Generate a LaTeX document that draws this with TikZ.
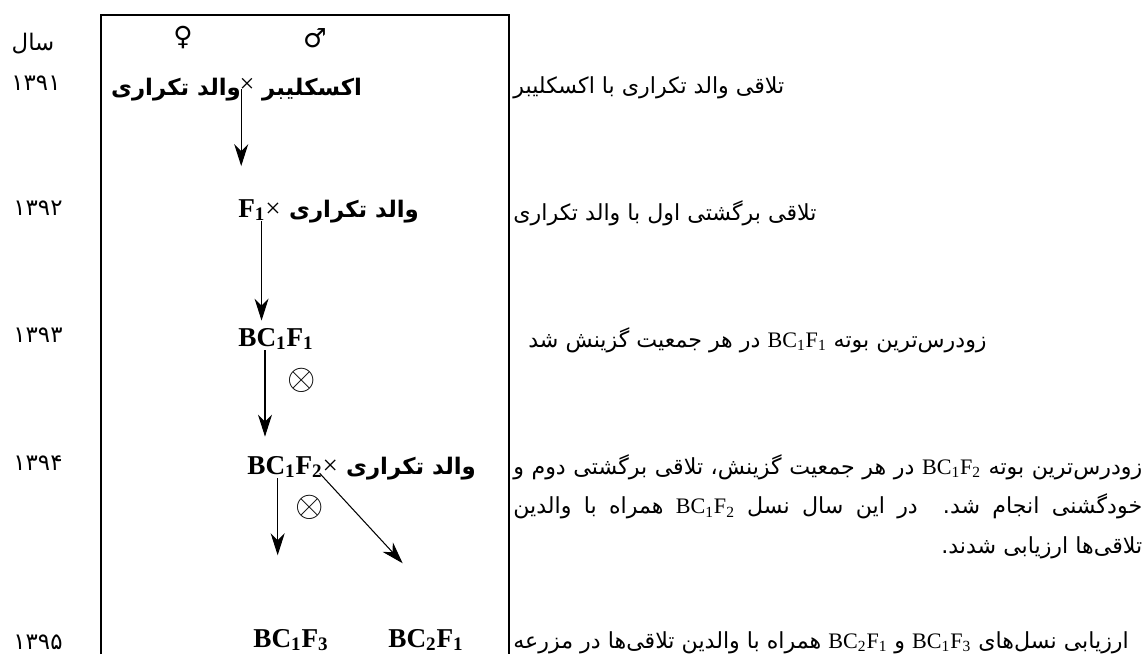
\documentclass[tikz,border=0pt]{standalone}
\usepackage{fontspec}
\setmainfont{Liberation Serif}
\newfontfamily\fa[Script=Arabic]{DejaVu Sans}
\newfontfamily\sym{DejaVu Sans}
\TeXXeTstate=1
\usetikzlibrary{arrows.meta,positioning}
\newcommand{\bcf}[2]{\beginL{\rmfamily BC\textsubscript{#1}F\textsubscript{#2}}\endL}
\tikzset{
  yr/.style={font=\fa\fontsize{13}{15}\selectfont,inner sep=0pt,anchor=base},
  pfbold/.style={font=\fa\bfseries\fontsize{13}{15}\selectfont,inner sep=0pt,anchor=base},
  gen/.style={font=\bfseries\fontsize{15.5}{17}\selectfont,inner sep=0pt,anchor=base west},
  note/.style={font=\fa\fontsize{12.6}{22.7}\selectfont,inner sep=0pt,anchor=base west},
  sex/.style={font=\sym\fontsize{15}{15}\selectfont,inner sep=0pt},
  self/.style={font=\fontsize{20.74}{21}\selectfont,inner sep=0pt},
  arr/.style={-{Stealth[length=0.44cm,width=0.28cm,inset=0.14cm]},line width=0.6pt}
}
\begin{document}
\begin{tikzpicture}[x=0.02cm,y=-0.02cm]
  \useasboundingbox (0,0) rectangle (1143,654);
  % frame
  \draw[line width=1.1pt] (101,654) -- (101,15) -- (509,15) -- (509,654);
  % years
  \node[yr] (ysal) at (33,50) {\beginR سال\endR};
  \node[yr] (y1) at (36,90) {۱۳۹۱};
  \node[yr] (y2) at (38,215) {۱۳۹۲};
  \node[yr] (y3) at (38,342) {۱۳۹۳};
  \node[yr] (y4) at (38,470) {۱۳۹۴};
  \node[yr] (y5) at (38,649) {۱۳۹۵};
  % 1391
  \node[sex] (fem) at (183,38) {♀};
  \node[sex] (mal) at (315,38) {♂};
  \node[pfbold] (p1f) at (176,95) {\beginR والد تکراری\endR};
  \node[inner sep=0pt,anchor=base,font=\fontsize{15}{15}\selectfont] (x1) at (247,92) {×};
  \node[pfbold] (p1m) at (312,95) {\beginR اکسکلیبر\endR};
  % 1392
  \node[gen] (f1) at (238,217) {F\textsubscript{1}{\mdseries×}};
  \node[pfbold] (p2f) at (354,217) {\beginR والد تکراری\endR};
  % 1393
  \node[gen] (bc11) at (238,346) {\bcf11};
  \node[self] (s1) at (302,380) {$\otimes$};
  % 1394
  \node[gen] (bc12) at (247,474) {\bcf12{\mdseries×}};
  \node[pfbold] (p4f) at (411,474) {\beginR والد تکراری\endR};
  \node[self] (s2) at (310,507) {$\otimes$};
  % 1395
  \node[gen] (bc13) at (253,647) {\bcf13};
  \node[gen] (bc21) at (388,647) {\bcf21};
  % arrows
  \draw[arr] (p1f.east) -- ++(0,77);
  \draw[arr,shorten >=4pt] ([xshift=0.04cm]f1.south) -- ([xshift=0.04cm]f1.south |- bc11.north);
  \draw[arr,shorten >=10.8pt] ([xshift=-0.22cm]bc11.south) -- ([xshift=-0.22cm]bc11.south |- bc12.north);
  \draw[arr] ([xshift=-0.3cm]bc12.south) -- ++(0,77);
  \draw[arr] ([xshift=0.54cm,yshift=0.1cm]bc12.south) -- ++(83,90);
  % notes
  \node[note] (n1) at (513,93) {\beginR تلاقی والد تکراری با اکسکلیبر\endR};
  \node[note] (n2) at (513,220) {\beginR تلاقی برگشتی اول با والد تکراری\endR};
  \node[note] (n3) at (528,347) {\beginR زودرس^^^^200cترین بوته \bcf11 در هر جمعیت گزینش شد\endR};
  \node[note,text width=12.58cm,align=justify] (n4) at (513,474) {\beginR زودرس^^^^200cترین بوته \bcf12 در هر جمعیت گزینش، تلاقی برگشتی دوم و\linebreak خودگشنی انجام شد. در این سال نسل \bcf12 همراه با والدین\linebreak تلاقی^^^^200cها ارزیابی شدند.};
  \node[note] (n5) at (513,648) {\beginR ارزیابی نسل^^^^200cهای \bcf13 و \bcf21 همراه با والدین تلاقی^^^^200cها در مزرعه\endR};
\end{tikzpicture}
\end{document}
